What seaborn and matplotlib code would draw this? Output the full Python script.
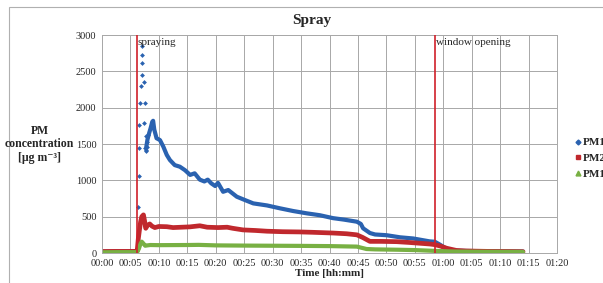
import pandas as pd
import matplotlib.pyplot as plt
import matplotlib.ticker as mticker
from matplotlib.lines import Line2D
from matplotlib.patches import Rectangle
import seaborn as sns

# --- data (time in minutes, concentration in ug/m3) ---
pm10_pre_t = [0, 1, 2, 3, 4, 5, 6, 6.2]
pm10_pre_v = [20, 20, 21, 22, 22, 22, 22, 25]

# scattered PM10 readings right after spraying
pm10_spike_t = [6.38, 6.5, 6.56, 6.56, 6.68, 6.8, 6.98, 6.98, 6.98, 7.08,
                7.43, 7.56, 7.38, 7.7, 7.85, 7.75, 7.9, 8.1, 7.6, 7.8]
pm10_spike_v = [637, 1060, 1440, 1761, 2068, 2302, 2449, 2614, 2725, 2848,
                2357, 2068, 1793, 1610, 1463, 1400, 1530, 1620, 1450, 1420]

pm10_t = [7.8, 8.0, 8.3, 8.55, 8.85, 9.0, 9.2, 9.6, 10.2, 10.8, 11.4, 11.95,
          12.8, 13.7, 14.6, 15.5, 16.3, 17.2, 18.0, 18.6, 19.2, 19.9, 20.4,
          21.3, 22.2, 23.7, 25.1, 26.6, 29.0, 31.3, 33.6, 36.0, 38.3, 40.6,
          42.5, 44.8, 45.5, 45.9, 47.1, 48.0, 50.0, 52.4, 54.7, 57.6, 58.5,
          59.4, 60.3, 61.2, 62.5, 64.1, 67, 70, 74]
pm10_v = [1460, 1560, 1650, 1716, 1807, 1820, 1700, 1580, 1555, 1463, 1350, 1280,
          1210, 1188, 1140, 1075, 1097, 1010, 985, 1010, 960, 922, 965,
          843, 867, 775, 730, 683, 655, 615, 578, 546, 520, 480,
          460, 431, 400, 340, 275, 255, 245, 216, 200, 160, 155,
          115, 70, 42, 32, 28, 25, 22, 20]

pm25_t = [0, 2, 4, 6, 6.2, 6.4, 6.6, 6.8, 7.0, 7.3, 7.5, 7.7, 8.0, 8.4, 8.8,
          9.3, 10, 11.4, 12.5, 14, 15.5, 17.2, 18.5, 20.4, 22, 23, 24.8, 27,
          29, 31.8, 34.8, 37, 40.6, 43, 44.8, 45.8, 47.1, 49, 51.8, 54, 57.6,
          58.5, 59.5, 60.6, 62.3, 64, 68, 72, 74]
pm25_v = [20, 22, 22, 22, 30, 200, 320, 430, 500, 525, 440, 340, 380, 400, 370,
          350, 365, 362, 350, 355, 360, 375, 355, 350, 355, 340, 318, 310,
          300, 293, 290, 285, 275, 265, 250, 215, 160, 160, 156, 145, 124,
          115, 95, 65, 35, 28, 22, 20, 18]

pm1_t = [0, 3, 6.2, 6.5, 6.8, 7.0, 7.3, 7.6, 8.0, 8.5, 10, 15, 17, 20, 25, 30,
         35, 40, 44.8, 46.5, 48, 52, 55, 58.2, 60, 62, 66, 74]
pm1_v = [10, 12, 12, 60, 130, 156, 130, 100, 105, 110, 108, 110, 112, 105, 102,
         100, 98, 95, 88, 55, 50, 45, 40, 30, 25, 20, 18, 15]

events_t = [6.1, 58.5]
events_txt = ["spraying", "window opening"]
series_names = ["PM10", "PM2.5", "PM1"]

c10, c25, c1 = "#2a62b0", "#c0282d", "#78b043"
grid_c = "#a8a8a8"

sns.set_style("white")
plt.rcParams["font.family"] = ["Liberation Serif", "DejaVu Serif"]

fig = plt.figure(figsize=(6.03, 2.83), dpi=100)
ax = fig.add_axes([0.169, 0.106, 0.755, 0.770])

# chart frame (light border running off the right/bottom edge)
fig.patches.append(Rectangle((9 / 603, -0.1), 1.2, 1.1 - 7 / 283,
                             transform=fig.transFigure, fill=False,
                             edgecolor="#b0b0b0", lw=0.8))

sns.lineplot(x=pm10_pre_t, y=pm10_pre_v, ax=ax, color=c10, lw=3)
sns.lineplot(x=pm10_t, y=pm10_v, ax=ax, color=c10, lw=3)
sns.scatterplot(x=pm10_spike_t, y=pm10_spike_v, ax=ax, color=c10, marker="D",
                s=6, linewidth=0)
sns.lineplot(x=pm25_t, y=pm25_v, ax=ax, color=c25, lw=3.4)
sns.lineplot(x=pm1_t, y=pm1_v, ax=ax, color=c1, lw=3)

for t, txt in zip(events_t, events_txt):
    ax.axvline(t, color="#d0202a", lw=1.2, zorder=5)
    ax.text(t + 0.2, 2960, txt, fontsize=8, va="top", ha="left")

ax.set_xlim(0, 80)
ax.set_ylim(0, 3000)
ax.xaxis.set_major_locator(mticker.MultipleLocator(5))
ax.yaxis.set_major_locator(mticker.MultipleLocator(500))
ax.xaxis.set_major_formatter(mticker.FuncFormatter(
    lambda v, p: f"{int(v) // 60:02d}:{int(v) % 60:02d}"))
ax.grid(True, color=grid_c, lw=0.7)
ax.set_axisbelow(True)
for sp in ax.spines.values():
    sp.set_color(grid_c)
    sp.set_linewidth(0.7)
ax.tick_params(length=0, labelsize=7.5, pad=4)

ax.set_xlabel("Time [hh:mm]", fontweight="bold", fontsize=8, labelpad=1)
ax.set_ylabel("")
fig.text(0.066, 0.49, "PM\nconcentration\n[\u03bcg m\u207b\u00b3]", ha="center",
         va="center", fontweight="bold", fontsize=8.5, linespacing=1.15)
fig.text(0.517, 0.928, "Spray", ha="center", va="center", fontweight="bold",
         fontsize=11)

handles = [Line2D([], [], ls="", marker="D", ms=2.5, color=c10),
           Line2D([], [], ls="", marker="s", ms=3.5, color=c25),
           Line2D([], [], ls="", marker="^", ms=3.5, color=c1)]
fig.legend(handles, series_names, loc="center left",
           bbox_to_anchor=(0.945, 0.44), frameon=False, handlelength=0.6,
           handletextpad=0.2, labelspacing=0.55, borderaxespad=0,
           prop={"weight": "bold", "size": 8})

fig.savefig("out.png", dpi=100)
